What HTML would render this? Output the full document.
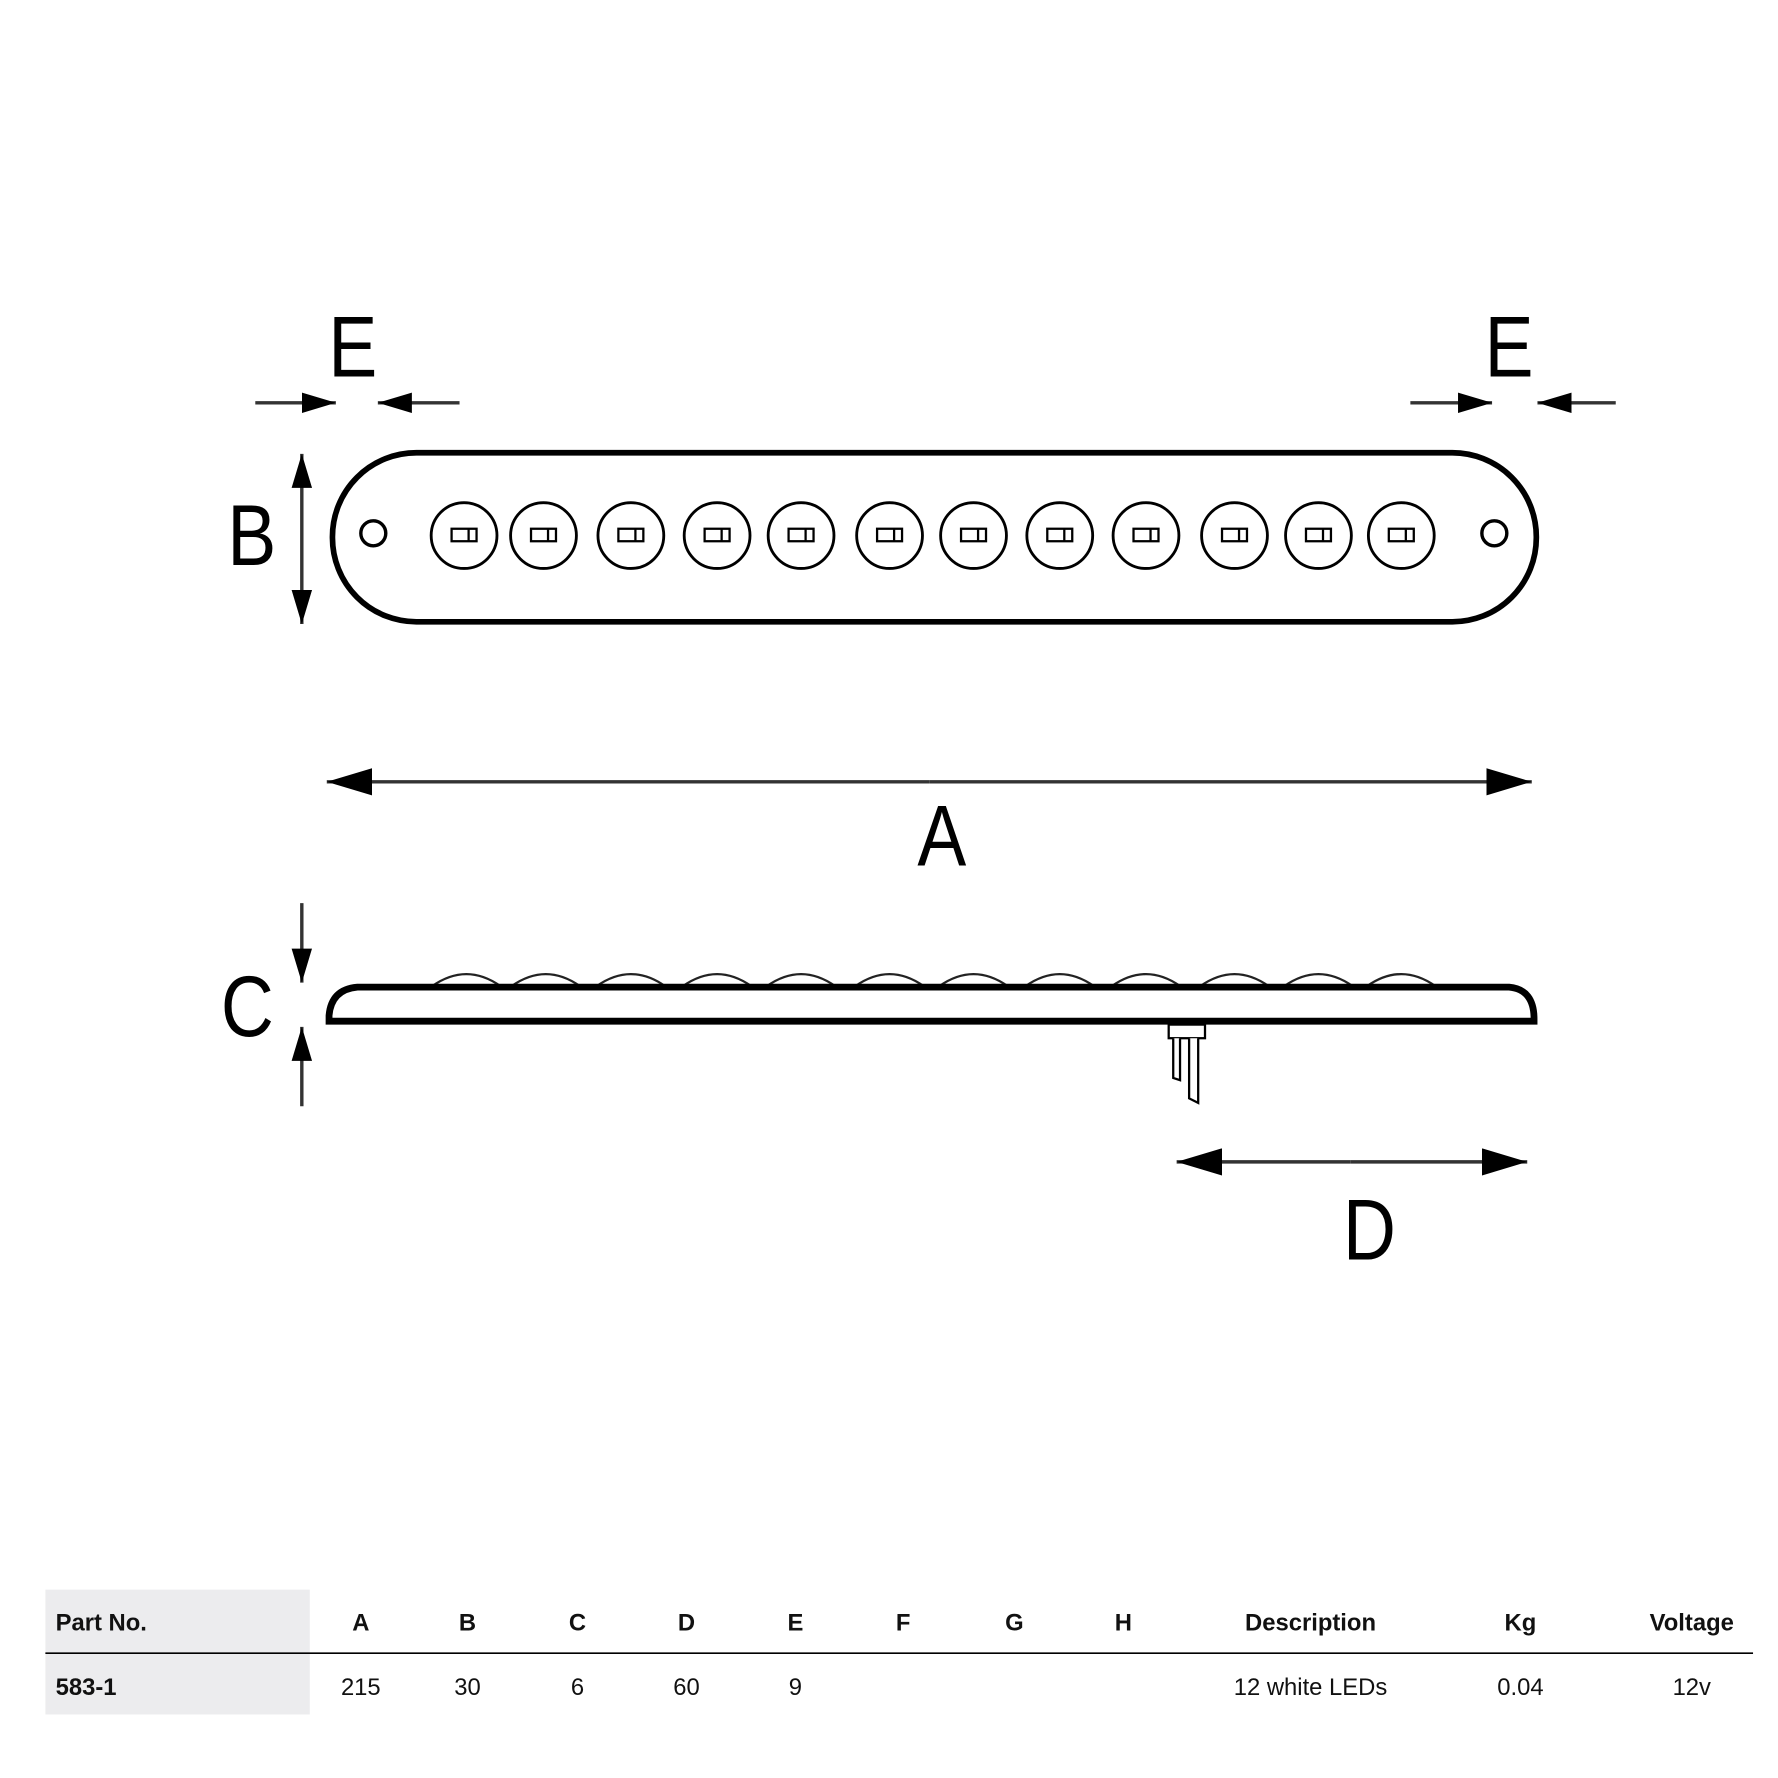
<!DOCTYPE html>
<html><head><style>html,body{margin:0;padding:0;background:#fff}svg{display:block}</style></head>
<body>
<svg width="1778" height="1778" viewBox="0 0 1567 1567" xmlns="http://www.w3.org/2000/svg">
<defs>
<marker id="ah" viewBox="0 0 40 24" refX="40" refY="12" markerWidth="40" markerHeight="24" markerUnits="userSpaceOnUse" orient="auto"><path d="M0,0 L40,12 L0,24 Z" fill="#000"/></marker>
<marker id="as" viewBox="0 0 30 18" refX="30" refY="9" markerWidth="30" markerHeight="18" markerUnits="userSpaceOnUse" orient="auto"><path d="M0,0 L30,9 L0,18 Z" fill="#000"/></marker>
<g id="l" fill="none" stroke="#000" stroke-width="2.5"><circle cx="0" cy="472" r="29"/><rect x="-11" y="466" width="22" height="11" stroke-width="2"/><line x1="4" y1="466" x2="4" y2="477" stroke-width="2"/></g>
</defs>
<g font-family="Liberation Sans, sans-serif" font-size="76" fill="#000">
<text x="311" y="332" text-anchor="middle" transform="translate(311 0) scale(0.85 1) translate(-311 0)">E</text>
<text x="1330" y="332" text-anchor="middle" transform="translate(1330 0) scale(0.85 1) translate(-1330 0)">E</text>
<text x="222" y="498" text-anchor="middle" transform="translate(222 0) scale(0.85 1) translate(-222 0)">B</text>
<text x="830" y="763" text-anchor="middle" transform="translate(830 0) scale(0.85 1) translate(-830 0)">A</text>
<text x="218" y="913" text-anchor="middle" transform="translate(218 0) scale(0.85 1) translate(-218 0)">C</text>
<text x="1207" y="1110" text-anchor="middle" transform="translate(1207 0) scale(0.85 1) translate(-1207 0)">D</text>
</g>
<g stroke="#333" stroke-width="3" fill="none">
<line x1="225" y1="355" x2="296" y2="355" marker-end="url(#as)"/>
<line x1="405" y1="355" x2="333" y2="355" marker-end="url(#as)"/>
<line x1="1243" y1="355" x2="1315" y2="355" marker-end="url(#as)"/>
<line x1="1424" y1="355" x2="1355" y2="355" marker-end="url(#as)"/>
<line x1="266" y1="475" x2="266" y2="400" marker-end="url(#as)"/>
<line x1="266" y1="475" x2="266" y2="550" marker-end="url(#as)"/>
<line x1="819" y1="689" x2="288" y2="689" marker-end="url(#ah)"/>
<line x1="819" y1="689" x2="1350" y2="689" marker-end="url(#ah)"/>
<line x1="266" y1="796" x2="266" y2="866" marker-end="url(#as)"/>
<line x1="266" y1="975" x2="266" y2="905" marker-end="url(#as)"/>
<line x1="1190" y1="1024" x2="1037" y2="1024" marker-end="url(#ah)"/>
<line x1="1190" y1="1024" x2="1346" y2="1024" marker-end="url(#ah)"/>
</g>
<rect x="293" y="399" width="1061" height="149" rx="74" ry="74" fill="none" stroke="#000" stroke-width="5"/>
<circle cx="329" cy="470" r="11" fill="none" stroke="#000" stroke-width="3"/>
<circle cx="1317" cy="470" r="11" fill="none" stroke="#000" stroke-width="3"/>
<use href="#l" x="409"/><use href="#l" x="479"/><use href="#l" x="556"/><use href="#l" x="632"/><use href="#l" x="706"/><use href="#l" x="784"/><use href="#l" x="858"/><use href="#l" x="934"/><use href="#l" x="1010"/><use href="#l" x="1088"/><use href="#l" x="1162"/><use href="#l" x="1235"/>
<g fill="none" stroke="#222" stroke-width="2">
<path d="M381,869 Q411,848 441,869 M451,869 Q481,848 511,869 M526,869 Q556,848 586,869 M602,869 Q632,848 662,869 M676,869 Q706,848 736,869 M754,869 Q784,848 814,869 M828,869 Q858,848 888,869 M904,869 Q934,848 964,869 M980,869 Q1010,848 1040,869 M1058,869 Q1088,848 1118,869 M1132,869 Q1162,848 1192,869 M1205,869 Q1235,848 1265,869"/>
</g>
<path d="M315,870 L1330,870 Q1352,872 1352,898 L1352,900 L290,900 L290,895 Q292,872 315,870 Z" fill="none" stroke="#000" stroke-width="6"/>
<g fill="#fff" stroke="#000" stroke-width="2">
<rect x="1030" y="903" width="32" height="12"/>
<path d="M1034,915 L1034,950 L1040,952 L1040,915"/>
<path d="M1048,915 L1048,968 L1056,972 L1056,915"/>
</g>
<rect x="40" y="1401" width="233" height="110" fill="#ececee"/>
<line x1="40" y1="1457" x2="1545" y2="1457" stroke="#000" stroke-width="1.5"/>
<g font-family="Liberation Sans, sans-serif" font-size="21" fill="#111" text-anchor="middle">
<g font-weight="bold">
<text x="49" y="1437" text-anchor="start">Part No.</text>
<text x="318" y="1437">A</text><text x="412" y="1437">B</text><text x="509" y="1437">C</text><text x="605" y="1437">D</text><text x="701" y="1437">E</text><text x="796" y="1437">F</text><text x="894" y="1437">G</text><text x="990" y="1437">H</text>
<text x="1155" y="1437">Description</text><text x="1340" y="1437">Kg</text><text x="1491" y="1437">Voltage</text>
<text x="49" y="1494" text-anchor="start">583-1</text>
</g>
<text x="318" y="1494">215</text><text x="412" y="1494">30</text><text x="509" y="1494">6</text><text x="605" y="1494">60</text><text x="701" y="1494">9</text>
<text x="1155" y="1494">12 white LEDs</text><text x="1340" y="1494">0.04</text><text x="1491" y="1494">12v</text>
</g>
</svg>
</body></html>
